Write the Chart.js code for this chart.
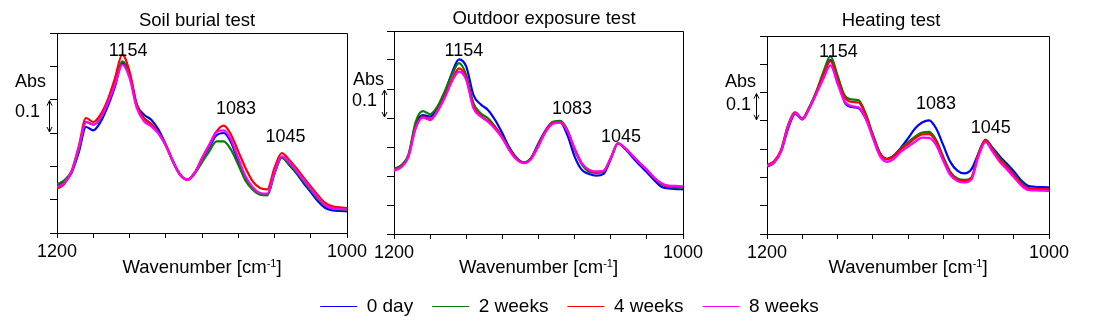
<!DOCTYPE html>
<html><head><meta charset="utf-8">
<script src="https://cdn.jsdelivr.net/npm/chart.js@4.4.1/dist/chart.umd.min.js"></script>
<style>
html,body{margin:0;padding:0;background:#fff;}
#wrap{position:relative;width:1099px;height:336px;overflow:hidden;background:#fff;}
canvas{position:absolute;}
</style></head><body>
<div id="wrap">
<canvas id="c1" width="1099" height="290" style="left:0;top:0"></canvas>
<canvas id="c2" width="1099" height="290" style="left:0;top:0"></canvas>
<canvas id="c3" width="1099" height="290" style="left:0;top:0"></canvas>
<canvas id="lg" width="1059" height="58" style="left:40px;top:278px"></canvas>
</div>
<script>
const FONT = "'Liberation Sans', Arial, Helvetica, sans-serif";

// ---------- data ----------
const wavenumbers = [1200,1195,1190,1185,1180,1175,1170,1165,1160,1155,1150,1145,1140,1135,1130,1125,1120,1115,1110,1105,1100,
                     1095,1090,1085,1080,1075,1070,1065,1060,1055,1050,1045,1040,1035,1030,1025,1020,1015,1010,1005,1000];
const seriesNames = ['0 day','2 weeks','4 weeks','8 weeks'];
const seriesColors = ['#0000ff','#008000','#ff0000','#ff00ff'];
const panelTitles = ['Soil burial test','Outdoor exposure test','Heating test'];
const peakLabels = ['1154','1083','1045'];
const xTickLabels = [1200, 1000];
const axisTitleMain = 'Wavenumber [cm';
const axisTitleSup = '-1';
const axisTitleEnd = ']';
const absLabel = 'Abs';
const scaleBarLabel = '0.1';
const scaleBarValue = 0.1;

// Soil burial test
const soilDay0  = [0.140,0.152,0.180,0.242,0.318,0.308,0.333,0.380,0.440,0.510,0.475,0.385,0.355,0.340,0.310,0.265,0.215,0.175,0.160,0.180,0.220,
                   0.257,0.293,0.300,0.272,0.215,0.165,0.133,0.117,0.114,0.180,0.227,0.205,0.180,0.150,0.123,0.095,0.075,0.068,0.066,0.065];
const soilWeek2 = [0.146,0.158,0.185,0.250,0.333,0.325,0.343,0.393,0.450,0.515,0.478,0.380,0.345,0.328,0.300,0.262,0.213,0.173,0.160,0.178,0.212,
                   0.245,0.275,0.275,0.250,0.205,0.157,0.130,0.115,0.113,0.178,0.225,0.207,0.183,0.155,0.128,0.102,0.082,0.073,0.071,0.069];
const soilWeek4 = [0.133,0.147,0.185,0.260,0.345,0.333,0.355,0.400,0.465,0.535,0.485,0.385,0.343,0.327,0.300,0.265,0.215,0.175,0.160,0.182,0.225,
                   0.265,0.305,0.322,0.295,0.245,0.195,0.155,0.135,0.131,0.195,0.240,0.220,0.195,0.167,0.140,0.113,0.090,0.080,0.077,0.075];
const soilWeek8 = [0.138,0.150,0.183,0.255,0.333,0.325,0.345,0.390,0.445,0.505,0.465,0.375,0.335,0.320,0.298,0.263,0.214,0.174,0.160,0.180,0.222,
                   0.263,0.303,0.308,0.280,0.225,0.170,0.137,0.120,0.118,0.182,0.230,0.213,0.188,0.160,0.133,0.106,0.084,0.074,0.072,0.071];
// Outdoor exposure test
const outDay0  = [0.224,0.236,0.270,0.378,0.410,0.405,0.433,0.485,0.554,0.602,0.577,0.479,0.447,0.428,0.393,0.347,0.297,0.262,0.246,0.263,0.313,
                  0.358,0.385,0.385,0.341,0.267,0.221,0.207,0.201,0.207,0.258,0.312,0.293,0.265,0.238,0.213,0.186,0.163,0.157,0.155,0.154];
const outWeek2 = [0.224,0.237,0.273,0.387,0.424,0.413,0.439,0.491,0.548,0.589,0.548,0.450,0.416,0.399,0.370,0.333,0.293,0.260,0.246,0.262,0.310,
                  0.355,0.387,0.390,0.359,0.290,0.240,0.215,0.211,0.215,0.262,0.313,0.295,0.270,0.244,0.220,0.193,0.172,0.162,0.161,0.160];
const outWeek4 = [0.220,0.232,0.268,0.368,0.404,0.396,0.425,0.474,0.530,0.571,0.537,0.440,0.408,0.390,0.368,0.332,0.290,0.258,0.245,0.261,0.308,
                  0.355,0.385,0.386,0.356,0.293,0.243,0.220,0.214,0.217,0.261,0.313,0.295,0.270,0.244,0.221,0.194,0.174,0.164,0.163,0.162];
const outWeek8 = [0.218,0.230,0.266,0.364,0.401,0.393,0.422,0.468,0.525,0.560,0.531,0.433,0.405,0.387,0.362,0.330,0.287,0.256,0.244,0.259,0.303,
                  0.352,0.380,0.384,0.355,0.295,0.244,0.221,0.215,0.218,0.261,0.313,0.296,0.271,0.245,0.222,0.195,0.175,0.167,0.166,0.164];
// Heating test
const heatDay0  = [0.238,0.252,0.292,0.373,0.425,0.405,0.445,0.498,0.562,0.616,0.552,0.467,0.449,0.445,0.408,0.350,0.287,0.266,0.278,0.305,0.338,
                   0.373,0.394,0.402,0.373,0.314,0.255,0.224,0.214,0.229,0.285,0.332,0.305,0.275,0.249,0.222,0.191,0.171,0.167,0.166,0.165];
const heatWeek2 = [0.241,0.255,0.296,0.385,0.429,0.408,0.449,0.505,0.573,0.629,0.561,0.491,0.476,0.473,0.426,0.352,0.287,0.265,0.276,0.302,0.324,
                   0.344,0.359,0.361,0.332,0.273,0.220,0.196,0.191,0.200,0.285,0.334,0.302,0.268,0.240,0.213,0.183,0.163,0.159,0.158,0.158];
const heatWeek4 = [0.244,0.257,0.297,0.385,0.430,0.408,0.447,0.500,0.563,0.611,0.544,0.484,0.467,0.465,0.420,0.349,0.285,0.264,0.275,0.300,0.318,
                   0.338,0.352,0.353,0.326,0.267,0.214,0.192,0.187,0.198,0.283,0.331,0.297,0.262,0.237,0.209,0.179,0.161,0.160,0.159,0.158];
const heatWeek8 = [0.240,0.253,0.292,0.380,0.427,0.405,0.444,0.495,0.549,0.596,0.532,0.469,0.452,0.447,0.408,0.340,0.276,0.255,0.266,0.291,0.308,
                   0.326,0.341,0.340,0.314,0.258,0.208,0.187,0.182,0.193,0.274,0.325,0.291,0.255,0.229,0.201,0.173,0.156,0.154,0.153,0.152];

// ---------- decoration plugin ----------
const panelDeco = {
  id: 'panelDeco',
  afterDraw(chart, args, o) {
    const ctx = chart.ctx, a = chart.chartArea, xs = chart.scales.x, ys = chart.scales.y;
    ctx.save();
    ctx.strokeStyle = '#000'; ctx.lineWidth = 1;
    const L = Math.round(a.left) + 0.5, R = Math.round(a.right) + 0.5;
    const T = Math.round(a.top) + 0.5, B = Math.round(a.bottom) + 0.5;
    ctx.beginPath();
    ctx.moveTo(L, T); ctx.lineTo(R, T); ctx.lineTo(R, B);
    ctx.stroke();

    ctx.fillStyle = '#000';
    ctx.font = '18.5px ' + FONT;
    ctx.textAlign = 'center'; ctx.textBaseline = 'alphabetic';
    ctx.fillText(o.title, (a.left + a.right) / 2 + o.titleDx, o.titleY);

    ctx.font = '18px ' + FONT;
    o.peaks.forEach((p, i) => {
      ctx.fillText(peakLabels[i], xs.getPixelForValue(p[0]), ys.getPixelForValue(p[1]));
    });

    ctx.textAlign = 'left';
    ctx.fillText(absLabel, a.left + o.absDx, o.absY);
    ctx.fillText(scaleBarLabel, a.left + o.tenthDx, o.tenthY);
    const x = Math.round(a.left + o.barDx) + 0.5;
    const y1 = ys.getPixelForValue(o.barTop) + 1;
    const y2 = ys.getPixelForValue(o.barTop - scaleBarValue) - 1;
    ctx.beginPath();
    ctx.moveTo(x, y1); ctx.lineTo(x, y2);
    ctx.moveTo(x - 2.5, y1 + 5); ctx.lineTo(x, y1); ctx.lineTo(x + 2.5, y1 + 5);
    ctx.moveTo(x - 2.5, y2 - 5); ctx.lineTo(x, y2); ctx.lineTo(x + 2.5, y2 - 5);
    ctx.stroke();

    const main = '18.5px ' + FONT, sup = '11px ' + FONT;
    ctx.font = main; const w1 = ctx.measureText(axisTitleMain).width, w3 = ctx.measureText(axisTitleEnd).width;
    ctx.font = sup; const w2 = ctx.measureText(axisTitleSup).width;
    let sx = (a.left + a.right) / 2 - (w1 + w2 + w3) / 2;
    const by = o.axisTitleY;
    ctx.font = main; ctx.fillText(axisTitleMain, sx, by); sx += w1;
    ctx.font = sup; ctx.fillText(axisTitleSup, sx, by - 6); sx += w2;
    ctx.font = main; ctx.fillText(axisTitleEnd, sx, by);
    ctx.restore();
  }
};

function makePanel(canvasId, series, area, yMax, deco) {
  const H = 290, W = 1099, yAxisW = 10, xAxisH = 50;
  return new Chart(document.getElementById(canvasId), {
    type: 'line',
    data: {
      datasets: series.map((vals, i) => ({
        label: seriesNames[i],
        data: wavenumbers.map((w, j) => ({ x: w, y: vals[j] })),
        borderColor: seriesColors[i],
        borderWidth: 2.2,
        pointRadius: 0,
        fill: false,
        cubicInterpolationMode: 'monotone',
        order: 4 - i
      }))
    },
    options: {
      responsive: false, animation: false, devicePixelRatio: 1, events: [],
      layout: { padding: { left: area.left - yAxisW, right: W - area.right, top: area.top, bottom: H - area.bottom - xAxisH } },
      plugins: { legend: { display: false }, tooltip: { enabled: false }, panelDeco: deco },
      scales: {
        x: {
          type: 'linear', reverse: true, min: 1000, max: 1200,
          afterFit: s => { s.height = xAxisH; },
          border: { display: true, color: '#000', width: 1 },
          grid: { display: true, drawOnChartArea: false, drawTicks: true, tickLength: 5, color: '#000' },
          ticks: {
            stepSize: 25, autoSkip: false, maxRotation: 0, minRotation: 0, padding: 3,
            color: '#000', font: { size: 18, family: FONT },
            callback: v => xTickLabels.includes(v) ? String(v) : ''
          }
        },
        y: {
          type: 'linear', min: 0, max: yMax,
          afterFit: s => { s.width = yAxisW; },
          border: { display: true, color: '#000', width: 1 },
          grid: { display: true, drawOnChartArea: false, drawTicks: true, tickLength: 7, color: '#000' },
          ticks: { stepSize: 0.1, display: false }
        }
      }
    },
    plugins: [panelDeco]
  });
}

makePanel('c1', [soilDay0, soilWeek2, soilWeek4, soilWeek8],
  { left: 57, right: 347, top: 33, bottom: 233 }, 0.6,
  { title: panelTitles[0], titleDx: -5, titleY: 26,
    peaks: [[1151.0, 0.531], [1076.6, 0.357], [1042.4, 0.272]],
    absDx: -42, absY: 87, tenthDx: -42, tenthY: 117, barDx: -8, barTop: 0.4, axisTitleY: 273 });

makePanel('c2', [outDay0, outWeek2, outWeek4, outWeek8],
  { left: 394, right: 683, top: 31, bottom: 234 }, 0.7,
  { title: panelTitles[1], titleDx: 5.5, titleY: 24,
    peaks: [[1151.6, 0.615], [1076.8, 0.413], [1042.9, 0.316]],
    absDx: -41, absY: 85, tenthDx: -42, tenthY: 106, barDx: -10.5, barTop: 0.5, axisTitleY: 273 });

makePanel('c3', [heatDay0, heatWeek2, heatWeek4, heatWeek8],
  { left: 767, right: 1049, top: 36, bottom: 234 }, 0.7,
  { title: panelTitles[2], titleDx: -17, titleY: 26,
    peaks: [[1149.4, 0.627], [1080.1, 0.442], [1041.3, 0.358]],
    absDx: -42, absY: 87, tenthDx: -41, tenthY: 110, barDx: -11, barTop: 0.5, axisTitleY: 273 });

// legend
new Chart(document.getElementById('lg'), {
  type: 'line',
  data: { datasets: seriesNames.map((n, i) => ({ label: n, data: [], borderColor: seriesColors[i], backgroundColor: seriesColors[i], borderWidth: 1 })) },
  options: {
    responsive: false, animation: false, devicePixelRatio: 1, events: [],
    layout: { padding: 0 },
    scales: { x: { display: false }, y: { display: false } },
    plugins: {
      tooltip: { enabled: false },
      legend: { display: true, position: 'top', maxHeight: 58,
        labels: { usePointStyle: true, pointStyle: 'line', pointStyleWidth: 37, padding: 19, color: '#000',
                  font: { size: 19, family: FONT } } }
    }
  }
});
</script>
</body></html>
